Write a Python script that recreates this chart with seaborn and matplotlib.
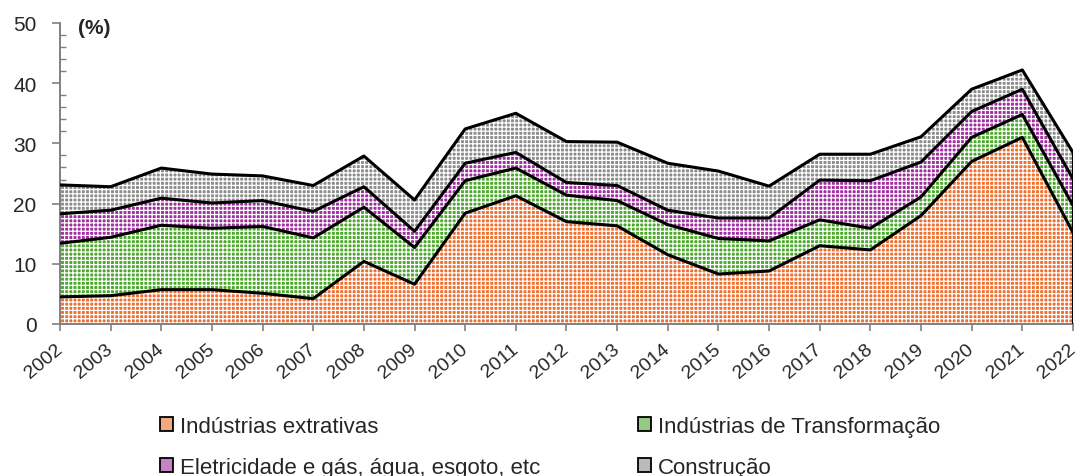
import numpy as np
import pandas as pd
import matplotlib
matplotlib.use("Agg")
import matplotlib.pyplot as plt
from matplotlib.patches import Patch
from matplotlib.ticker import MultipleLocator
import seaborn as sns

anos = list(range(2002, 2023))
extrativas = [4.5, 4.7, 5.7, 5.7, 5.1, 4.2, 10.4, 6.6, 18.4, 21.3, 17.0,
              16.3, 11.5, 8.3, 8.8, 13.0, 12.3, 18.0, 27.0, 31.0, 15.2]
transformacao = [8.9, 9.7, 10.7, 10.2, 11.1, 10.1, 9.0, 6.1, 5.4, 4.6, 4.4,
                 4.2, 5.0, 5.9, 5.0, 4.3, 3.6, 3.1, 4.0, 3.8, 4.5]
eletricidade = [4.9, 4.5, 4.5, 4.2, 4.3, 4.4, 3.4, 2.7, 2.9, 2.6, 2.1,
                2.5, 2.4, 3.4, 3.8, 6.6, 7.9, 5.8, 4.3, 4.2, 4.4]
construcao = [4.8, 3.9, 5.0, 4.8, 4.1, 4.3, 5.1, 5.2, 5.7, 6.5, 6.8,
              7.2, 7.8, 7.8, 5.3, 4.3, 4.4, 4.2, 3.7, 3.2, 4.4]

nomes = ["Indústrias extrativas", "Indústrias de Transformação",
         "Eletricidade e gás, água, esgoto, etc", "Construção"]
cores = ["#EE7030", "#4EA72E", "#9E2F9E", "#8C8C8C"]

sns.set_theme(style="ticks")
plt.rcParams["font.family"] = ["Liberation Sans", "DejaVu Sans"]
plt.rcParams["hatch.linewidth"] = 0.9

series = [extrativas, transformacao, eletricidade, construcao]
acum = np.cumsum(np.array(series), axis=0)

fig = plt.figure(figsize=(10.79, 4.77), dpi=100)
ax = fig.add_axes([0.0556, 0.3187, 0.9388, 0.631])

# areas empilhadas com textura quadriculada
base = np.zeros(len(anos))
for topo, cor in zip(acum, cores):
    ax.fill_between(anos, base, topo, facecolor=cor, edgecolor="white",
                    linewidth=0, hatch="++++", zorder=1)
    base = topo

df = pd.DataFrame(acum.T, columns=nomes)
df["ano"] = anos
longo = df.melt(id_vars="ano", var_name="serie", value_name="valor")
sns.lineplot(data=longo, x="ano", y="valor", hue="serie",
             palette=["black"] * 4, linewidth=2.2, legend=False, ax=ax, zorder=3)
ax.plot([anos[-1], anos[-1]], [0, acum[-1][-1]], color="black", linewidth=2.2, zorder=3)

ax.set_xlim(anos[0], anos[-1])
ax.set_ylim(0, 50)
ax.set_xlabel("")
ax.set_ylabel("")
ax.set_xticks(anos)
ax.set_xticklabels([str(a) for a in anos], rotation=40, ha="right",
                   va="center", rotation_mode="anchor", fontsize=14)
ax.yaxis.set_major_locator(MultipleLocator(10))
ax.yaxis.set_minor_locator(MultipleLocator(2))
ax.tick_params(axis="y", which="major", direction="out", length=6, width=1.2,
               color="#808080", labelsize=15, pad=11)
ax.tick_params(axis="y", which="minor", direction="in", length=4.5, width=1.0,
               color="#808080")
ax.tick_params(axis="x", which="major", direction="out", length=5, width=1.2,
               color="#808080", pad=11)
for lado in ["top", "right"]:
    ax.spines[lado].set_visible(False)
for lado in ["left", "bottom"]:
    ax.spines[lado].set_color("#808080")
    ax.spines[lado].set_linewidth(1.4)

ax.text(0.018, 0.985, "(%)", transform=ax.transAxes, fontsize=15,
        fontweight="bold", va="center", ha="left")

def clarear(c, f=0.4):
    r = np.array(matplotlib.colors.to_rgb(c))
    return tuple(r + (1 - r) * f)

alcas = [Patch(facecolor=clarear(cores[i]), edgecolor="black", linewidth=1.3)
         for i in [0, 2, 1, 3]]
rotulos = [nomes[i] for i in [0, 2, 1, 3]]
fig.legend(alcas, rotulos, ncol=2, loc="upper left",
           bbox_to_anchor=(0.148, 0.126), frameon=False, fontsize=16,
           handlelength=0.6, handleheight=0.6, handletextpad=0.3,
           labelspacing=0.9, columnspacing=4.4, borderpad=0, borderaxespad=0)

fig.savefig("out.png", dpi=100)
